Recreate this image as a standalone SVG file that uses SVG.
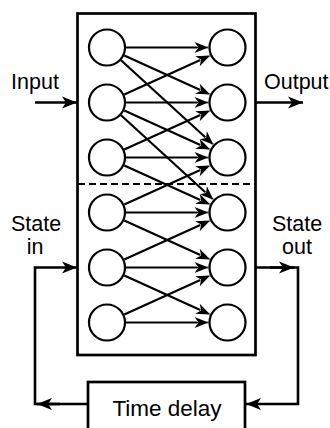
<svg xmlns="http://www.w3.org/2000/svg" width="330" height="428" viewBox="0 0 330 428">
<style>
.box{fill:none;stroke:#000;stroke-width:2.7}
.node{fill:#fff;stroke:#000;stroke-width:2.2}
.edge{fill:none;stroke:#000;stroke-width:2.2;marker-end:url(#ah)}
.wire{fill:none;stroke:#000;stroke-width:2.6}
.lbl{font-family:"Liberation Sans",Arial,sans-serif;font-size:21.5px;fill:#000}
.dash{stroke:#000;stroke-width:2.2;stroke-dasharray:7 4}
</style>
<defs>
<marker id="ah" markerUnits="userSpaceOnUse" viewBox="-16 -8 18 16" refX="0" refY="0" markerWidth="18" markerHeight="16" orient="auto" overflow="visible">
<path d="M0,0 L-14,-5.5 L-10,0 L-14,5.5 Z" fill="#000" stroke="#fff" stroke-width="0.9" paint-order="stroke"/>
</marker>
<marker id="ahw" markerUnits="userSpaceOnUse" viewBox="-16 -8 18 16" refX="0" refY="0" markerWidth="18" markerHeight="16" orient="auto" overflow="visible">
<path d="M0,0 L-15,-6 L-11,0 L-15,6 Z" fill="#000"/>
</marker>
</defs>
<g id="network-box"><rect class="box" x="77.5" y="13.5" width="178" height="341.5"/>
<line class="dash" x1="78" y1="184" x2="255" y2="184"/></g>
<g id="connectors">
<line class="edge" x1="126" y1="47.5" x2="208.5" y2="47.5"/>
<line class="edge" x1="124.3" y1="55.4" x2="210.2" y2="94.6"/>
<line class="edge" x1="121" y1="60.3" x2="213.5" y2="144.7"/>
<line class="edge" x1="124.3" y1="94.6" x2="210.2" y2="55.4"/>
<line class="edge" x1="126" y1="102.5" x2="208.5" y2="102.5"/>
<line class="edge" x1="124.3" y1="110.4" x2="210.2" y2="149.6"/>
<line class="edge" x1="121" y1="115.3" x2="213.5" y2="199.7"/>
<line class="edge" x1="124.3" y1="149.6" x2="210.2" y2="110.4"/>
<line class="edge" x1="126" y1="157.5" x2="208.5" y2="157.5"/>
<line class="edge" x1="124.3" y1="165.4" x2="210.2" y2="204.6"/>
<line class="edge" x1="124.3" y1="204.6" x2="210.2" y2="165.4"/>
<line class="edge" x1="126" y1="212.5" x2="208.5" y2="212.5"/>
<line class="edge" x1="124.3" y1="220.4" x2="210.2" y2="259.6"/>
<line class="edge" x1="124.3" y1="259.6" x2="210.2" y2="220.4"/>
<line class="edge" x1="126" y1="267.5" x2="208.5" y2="267.5"/>
<line class="edge" x1="124.3" y1="275.4" x2="210.2" y2="314.6"/>
<line class="edge" x1="124.3" y1="314.6" x2="210.2" y2="275.4"/>
<line class="edge" x1="126" y1="322.5" x2="208.5" y2="322.5"/>
<line class="wire" x1="35" y1="102.5" x2="77" y2="102.5" marker-end="url(#ahw)"/>
<line class="wire" x1="256" y1="102.5" x2="303" y2="102.5" marker-end="url(#ahw)"/>
<polyline class="wire" points="88,404 35,404 35,267.5 77,267.5" marker-end="url(#ahw)"/>
<line class="wire" x1="60" y1="404" x2="37" y2="404" marker-end="url(#ahw)"/>
<polyline class="wire" points="256,267.5 298,267.5 298,404 246,404" marker-end="url(#ahw)"/>
<line class="wire" x1="270" y1="267.5" x2="294" y2="267.5" marker-end="url(#ahw)"/>
</g>
<g id="in1"><circle class="node" cx="107" cy="47.5" r="18"/></g>
<g id="in2"><circle class="node" cx="107" cy="102.5" r="18"/></g>
<g id="in3"><circle class="node" cx="107" cy="157.5" r="18"/></g>
<g id="in4"><circle class="node" cx="107" cy="212.5" r="18"/></g>
<g id="in5"><circle class="node" cx="107" cy="267.5" r="18"/></g>
<g id="in6"><circle class="node" cx="107" cy="322.5" r="18"/></g>
<g id="out1"><circle class="node" cx="227.5" cy="47.5" r="18"/></g>
<g id="out2"><circle class="node" cx="227.5" cy="102.5" r="18"/></g>
<g id="out3"><circle class="node" cx="227.5" cy="157.5" r="18"/></g>
<g id="out4"><circle class="node" cx="227.5" cy="212.5" r="18"/></g>
<g id="out5"><circle class="node" cx="227.5" cy="267.5" r="18"/></g>
<g id="out6"><circle class="node" cx="227.5" cy="322.5" r="18"/></g>
<g id="time-delay"><rect class="box" x="88" y="382" width="157" height="60" fill="#fff"/>
<text class="lbl" x="167" y="415.5" text-anchor="middle" style="font-size:22.5px">Time delay</text></g>
<g id="labels">
<text class="lbl" x="35" y="89" text-anchor="middle">Input</text>
<text class="lbl" x="264" y="89">Output</text>
<text class="lbl" x="36" y="231" text-anchor="middle">State</text>
<text class="lbl" x="35" y="253.5" text-anchor="middle">in</text>
<text class="lbl" x="297" y="231" text-anchor="middle">State</text>
<text class="lbl" x="297" y="253.5" text-anchor="middle">out</text>
</g>
</svg>
